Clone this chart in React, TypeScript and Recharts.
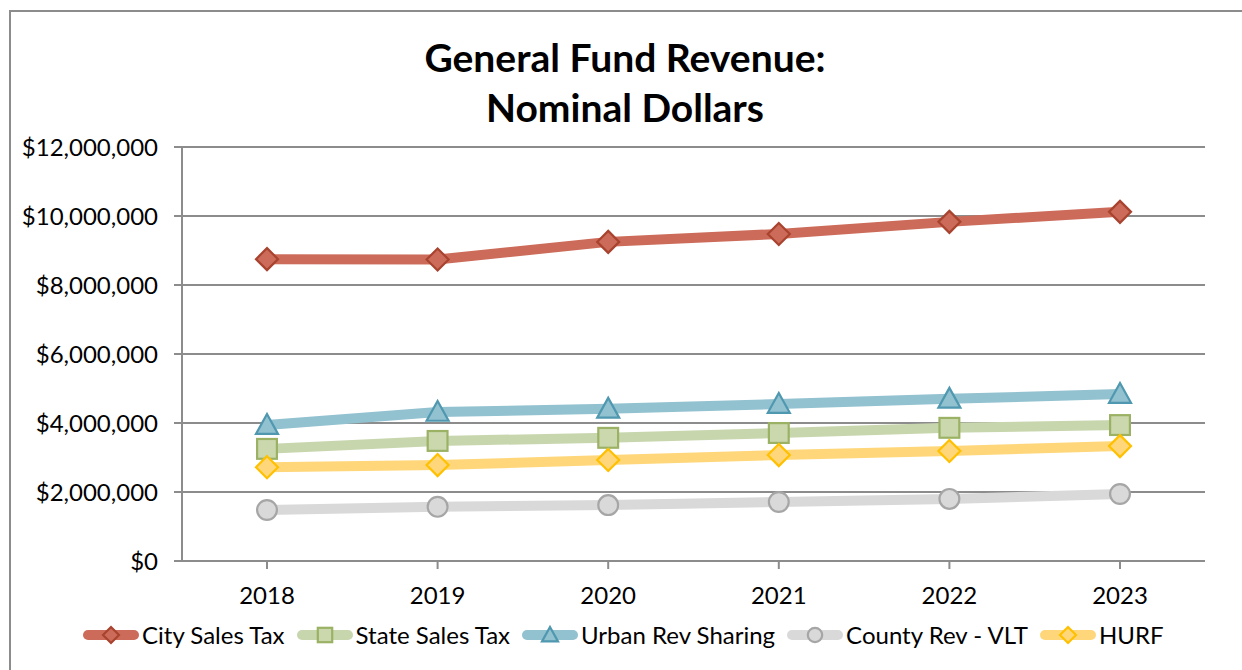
import { LineChart, Line, XAxis, YAxis, CartesianGrid } from 'recharts';

const years = ['2018', '2019', '2020', '2021', '2022', '2023'];
const citySalesTax = [8750000, 8740000, 9250000, 9480000, 9830000, 10120000];
const stateSalesTax = [3250000, 3480000, 3570000, 3710000, 3860000, 3940000];
const urbanRevSharing = [3940000, 4320000, 4410000, 4550000, 4700000, 4840000];
const countyRevVlt = [1480000, 1570000, 1620000, 1710000, 1800000, 1940000];
const hurf = [2720000, 2780000, 2930000, 3070000, 3190000, 3330000];
const yTicks = [0, 2000000, 4000000, 6000000, 8000000, 10000000, 12000000];

const FONT = 'Lato, "Open Sans", sans-serif';

type Shape = 'diamond' | 'square' | 'triangle' | 'circle';

interface SeriesDef {
  key: string;
  name: string;
  line: string;
  fill: string;
  stroke: string;
  shape: Shape;
}

const SERIES: SeriesDef[] = [
  { key: 'city', name: 'City Sales Tax', line: '#cc6b59', fill: '#cc6b59', stroke: '#a8432f', shape: 'diamond' },
  { key: 'state', name: 'State Sales Tax', line: '#c8d6ae', fill: '#cbd8ae', stroke: '#9bb264', shape: 'square' },
  { key: 'urban', name: 'Urban Rev Sharing', line: '#92c1d0', fill: '#92c1d0', stroke: '#4f98b0', shape: 'triangle' },
  { key: 'county', name: 'County Rev - VLT', line: '#d9d9d9', fill: '#d9d9d9', stroke: '#a6a6a6', shape: 'circle' },
  { key: 'hurf', name: 'HURF', line: '#ffd77a', fill: '#ffd77a', stroke: '#ffc000', shape: 'diamond' },
];

const chartData = years.map((year, i) => ({
  year,
  city: citySalesTax[i],
  state: stateSalesTax[i],
  urban: urbanRevSharing[i],
  county: countyRevVlt[i],
  hurf: hurf[i],
}));

function Marker({ shape, cx, cy, r, fill, stroke }: { shape: Shape; cx: number; cy: number; r: number; fill: string; stroke: string }) {
  const sw = 2.2;
  if (shape === 'diamond') {
    return (
      <polygon
        points={`${cx},${cy - r} ${cx + r},${cy} ${cx},${cy + r} ${cx - r},${cy}`}
        fill={fill}
        stroke={stroke}
        strokeWidth={sw}
      />
    );
  }
  if (shape === 'square') {
    const s = r * 0.9;
    return <rect x={cx - s} y={cy - s} width={s * 2} height={s * 2} fill={fill} stroke={stroke} strokeWidth={sw} />;
  }
  if (shape === 'triangle') {
    return (
      <polygon
        points={`${cx},${cy - r} ${cx + r},${cy + r * 0.8} ${cx - r},${cy + r * 0.8}`}
        fill={fill}
        stroke={stroke}
        strokeWidth={sw}
      />
    );
  }
  return <circle cx={cx} cy={cy} r={r * 0.9} fill={fill} stroke={stroke} strokeWidth={sw} />;
}

const makeDot = (s: SeriesDef) => (props: any) => {
  const { cx, cy, index } = props;
  if (cx == null || cy == null) return <g key={`${s.key}-${index}`} />;
  return (
    <g key={`${s.key}-${index}`}>
      <Marker shape={s.shape} cx={cx} cy={cy} r={11} fill={s.fill} stroke={s.stroke} />
    </g>
  );
};

const formatDollar = (v: number) => '$' + v.toLocaleString('en-US');

function LegendRow() {
  return (
    <div
      style={{
        position: 'absolute',
        left: 83,
        top: 620,
        display: 'flex',
        alignItems: 'center',
        fontFamily: FONT,
        fontSize: 24,
        color: '#000',
        whiteSpace: 'nowrap',
      }}
    >
      {SERIES.map((s) => (
        <div key={s.key} style={{ display: 'flex', alignItems: 'center', marginRight: 12 }}>
          <svg width={56} height={28}>
            <line x1={5} y1={14} x2={51} y2={14} stroke={s.line} strokeWidth={10} strokeLinecap="round" />
            <Marker shape={s.shape} cx={28} cy={14} r={8} fill={s.fill} stroke={s.stroke} />
          </svg>
          <span style={{ marginLeft: 3 }}>{s.name}</span>
        </div>
      ))}
    </div>
  );
}

export default function App() {
  return (
    <div style={{ position: 'relative', width: 1242, height: 670, overflow: 'hidden', background: '#fff' }}>
      <style>{`body{margin:0}`}</style>
      <div
        style={{
          position: 'absolute',
          left: 9,
          top: 10,
          width: 1400,
          height: 800,
          borderLeft: '2px solid #8c8c8c',
          borderTop: '2px solid #8c8c8c',
        }}
      />
      <div
        style={{
          position: 'absolute',
          left: 0,
          top: 32,
          width: 1250,
          textAlign: 'center',
          fontFamily: FONT,
          fontWeight: 700,
          fontSize: 39,
          lineHeight: '50px',
          color: '#000',
        }}
      >
        General Fund Revenue:
        <br />
        Nominal Dollars
      </div>
      <div style={{ position: 'absolute', left: 0, top: 0 }}>
        <LineChart width={1242} height={670} data={chartData} margin={{ top: 147, right: 37, left: 0, bottom: 79 }}>
          <CartesianGrid horizontal vertical={false} stroke="#8c8c8c" strokeWidth={2} />
          <XAxis
            dataKey="year"
            height={30}
            padding={{ left: 85, right: 85 }}
            tickSize={8}
            tickMargin={18}
            axisLine={{ stroke: '#8c8c8c', strokeWidth: 2 }}
            tickLine={{ stroke: '#8c8c8c', strokeWidth: 2 }}
            tick={{ fontFamily: FONT, fontSize: 24, fill: '#000' }}
          />
          <YAxis
            width={182}
            domain={[0, 12000000]}
            ticks={yTicks}
            interval={0}
            tickSize={8}
            tickMargin={16}
            tickFormatter={formatDollar}
            axisLine={{ stroke: '#8c8c8c', strokeWidth: 2 }}
            tickLine={{ stroke: '#8c8c8c', strokeWidth: 2 }}
            tick={{ fontFamily: FONT, fontSize: 24, fill: '#000' }}
          />
          {SERIES.map((s) => (
            <Line
              key={s.key}
              type="linear"
              dataKey={s.key}
              name={s.name}
              stroke={s.line}
              strokeWidth={10}
              strokeLinecap="round"
              dot={makeDot(s)}
              activeDot={false}
              isAnimationActive={false}
            />
          ))}
        </LineChart>
      </div>
      <LegendRow />
    </div>
  );
}
